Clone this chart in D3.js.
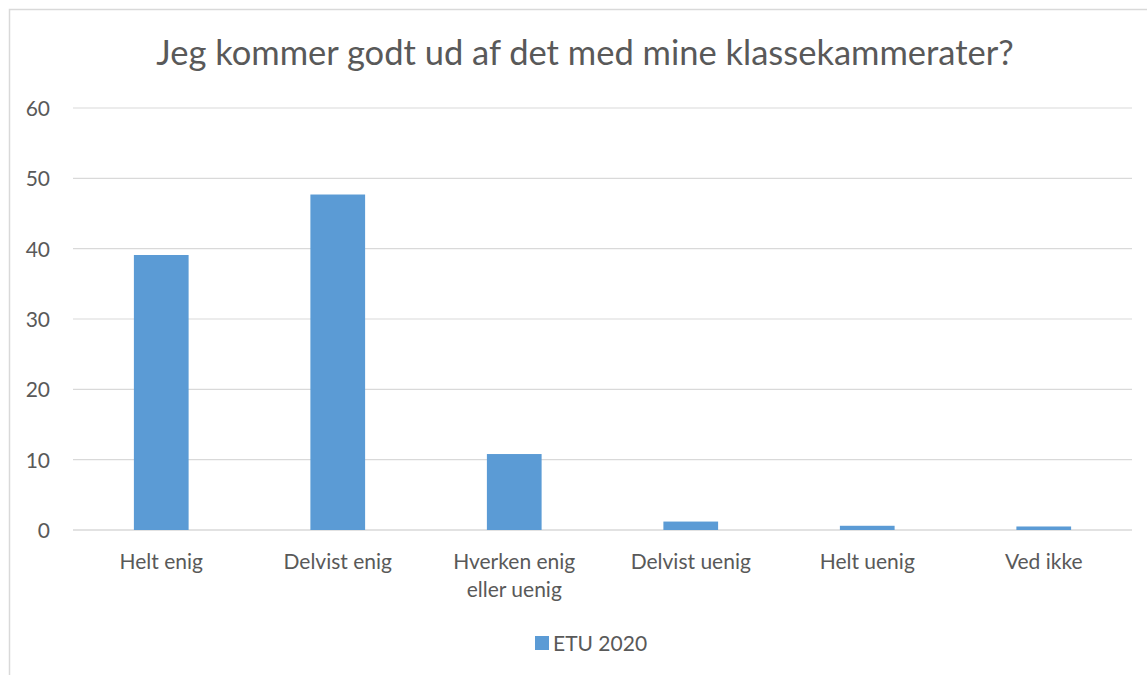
<!DOCTYPE html>
<html><head><meta charset="utf-8">
<script src="https://cdn.jsdelivr.net/npm/d3@7"></script>
<style>body{margin:0;background:#fff;} svg{display:block;}</style>
</head><body>
<svg id="c" width="1147" height="675"></svg>
<script>
const categories = ["Helt enig", "Delvist enig", "Hverken enig eller uenig", "Delvist uenig", "Helt uenig", "Ved ikke"];
const categoryLines = [["Helt enig"], ["Delvist enig"], ["Hverken enig", "eller uenig"], ["Delvist uenig"], ["Helt uenig"], ["Ved ikke"]];
const values = [39.1, 47.7, 10.8, 1.2, 0.6, 0.5];
const yTicks = [0, 10, 20, 30, 40, 50, 60];
const seriesName = "ETU 2020";
const title = "Jeg kommer godt ud af det med mine klassekammerater?";

const svg = d3.select("#c");
const font = "Lato, 'Open Sans', sans-serif";
const grey = "#595959";

// chart border
svg.append("rect").attr("x", 9.5).attr("y", 9.5).attr("width", 1147).attr("height", 680)
  .attr("fill", "#fff").attr("stroke", "#d9d9d9").attr("stroke-width", 1.5);

const pLeft = 73, pRight = 1132, pTop = 108, pBottom = 530;
const x = d3.scaleBand().domain(categories).range([pLeft, pRight]).paddingInner(0.69).paddingOuter(0.345);
const y = d3.scaleLinear().domain([0, 60]).range([pBottom, pTop]);

// gridlines
svg.append("g").selectAll("line").data(yTicks).join("line")
  .attr("x1", pLeft).attr("x2", pRight)
  .attr("y1", d => y(d)).attr("y2", d => y(d))
  .attr("stroke", "#d9d9d9").attr("stroke-width", d => d === 0 ? 1.5 : 1.2);

// y axis labels
const yAxis = d3.axisLeft(y).tickValues(yTicks).tickSize(0).tickPadding(0);
const gy = svg.append("g").attr("transform", `translate(${50},0)`).call(yAxis);
gy.select(".domain").remove();
gy.selectAll("text").attr("fill", grey).attr("font-family", font).attr("font-size", 21)
  .attr("text-anchor", "end").attr("dy", "0.35em");

// bars
svg.append("g").selectAll("rect").data(values).join("rect")
  .attr("x", (d, i) => x(categories[i]))
  .attr("width", x.bandwidth())
  .attr("y", d => y(d))
  .attr("height", d => y(0) - y(d))
  .attr("fill", "#5b9bd5");

// x labels
const xl = svg.append("g");
categories.forEach((c, i) => {
  const cx = x(c) + x.bandwidth() / 2;
  const t = xl.append("text").attr("x", cx).attr("y", 569)
    .attr("text-anchor", "middle").attr("fill", grey).attr("font-family", font).attr("font-size", 21);
  categoryLines[i].forEach((ln, j) => t.append("tspan").attr("x", cx).attr("dy", j === 0 ? 0 : 28).text(ln));
});

// title
svg.append("text").attr("x", 585).attr("y", 65).attr("text-anchor", "middle")
  .attr("fill", grey).attr("font-family", font).attr("font-size", 34.5).text(title);

// legend
svg.append("rect").attr("x", 535).attr("y", 636).attr("width", 14).attr("height", 14).attr("fill", "#5b9bd5");
svg.append("text").attr("x", 553).attr("y", 651).attr("fill", grey).attr("font-family", font).attr("font-size", 21).text(seriesName);
</script>
</body></html>
